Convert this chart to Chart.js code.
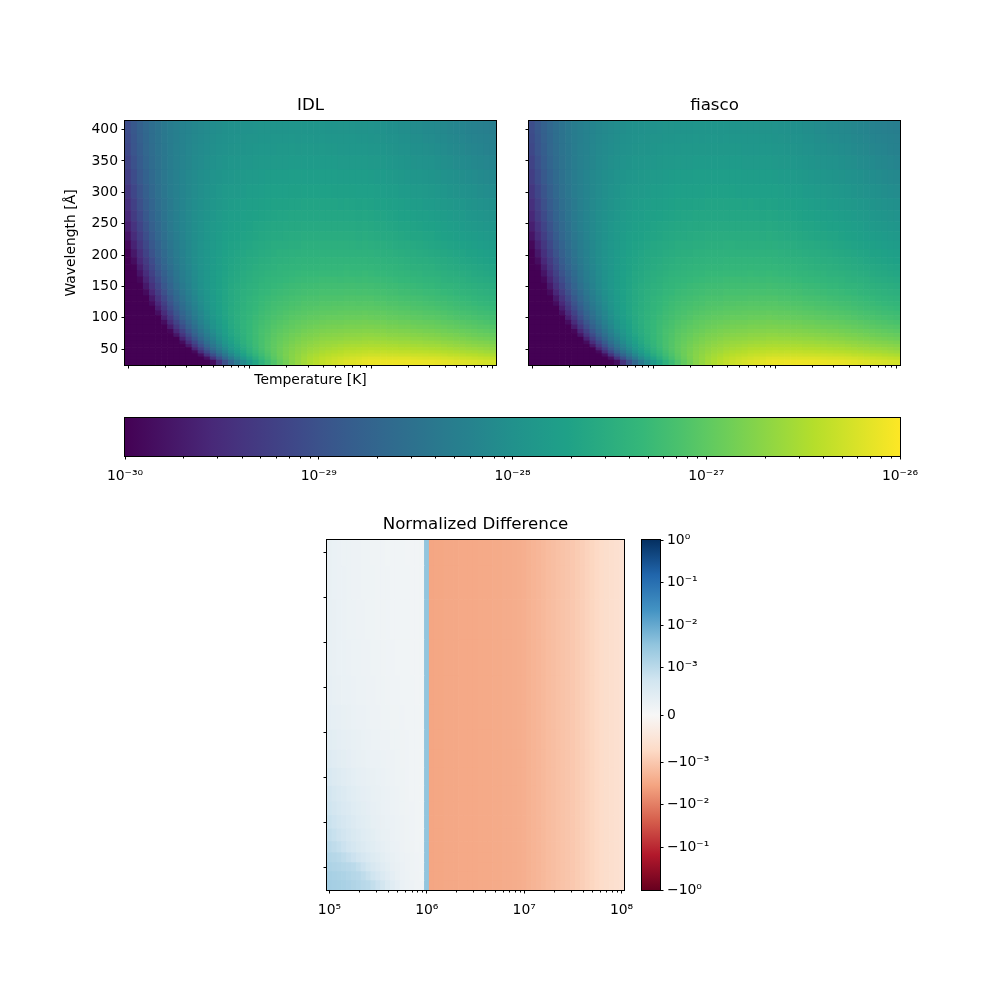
<!DOCTYPE html>
<html>
<head>
<meta charset="utf-8">
<script src="https://cdn.jsdelivr.net/npm/chart.js@4.4.1/dist/chart.umd.min.js"></script>
<style>
html,body{margin:0;padding:0;background:#fff;}
#wrap{position:relative;width:1000px;height:1000px;background:#fff;}
#wrap canvas{position:absolute;left:0;top:0;}
</style>
</head>
<body>
<div id="wrap">
<canvas id="cIdl" width="1000" height="1000"></canvas>
<canvas id="cFiasco" width="1000" height="1000"></canvas>
<canvas id="cBar" width="1000" height="1000"></canvas>
<canvas id="cDiff" width="1000" height="1000"></canvas>
<canvas id="cDiffBar" width="1000" height="1000"></canvas>
</div>
<script>
// ---------------- DATA ----------------
// log10 temperature of each column (K)
const logTemperature = [
  5.00,5.05,5.10,5.15,5.20,5.25,5.30,5.35,5.40,5.45,
  5.50,5.55,5.60,5.65,5.70,5.75,5.80,5.85,5.90,5.95,
  6.00,6.05,6.10,6.15,6.20,6.25,6.30,6.35,6.40,6.45,
  6.50,6.55,6.60,6.65,6.70,6.75,6.80,6.85,6.90,6.95,
  7.00,7.05,7.10,7.15,7.20,7.25,7.30,7.35,7.40,7.45,
  7.50,7.55,7.60,7.65,7.70,7.75,7.80,7.85,7.90,7.95,8.00];
// wavelength of each emissivity row (Angstrom), and the plotted wavelength range
const wavelength = [30,35,40,45,50,55,60,66,72,78,85,92,100,107,115,122,130,140,150,160,
  170,180,190,202,215,230,245,262,280,300,325,347,370,385,400];
const wavelengthRange = [24.6, 413.7];

// IDL emissivity, log10 values, one array per wavelength row (columns = logTemperature)
const idl_30 = [-31,-31,-31,-31,-31,-31,-31,-31,-31,-31,
  -31,-31,-30.92,-30.36,-29.86,-29.42,-29.03,-28.68,-28.38,-28.10,
  -27.86,-27.64,-27.44,-27.27,-27.11,-26.97,-26.86,-26.74,-26.65,-26.56,
  -26.49,-26.43,-26.37,-26.32,-26.28,-26.24,-26.20,-26.18,-26.16,-26.13,
  -26.11,-26.11,-26.10,-26.10,-26.09,-26.10,-26.10,-26.11,-26.11,-26.12,
  -26.12,-26.13,-26.15,-26.16,-26.18,-26.19,-26.21,-26.22,-26.24,-26.26,-26.27];
const idl_35 = [-31,-31,-31,-31,-31,-31,-31,-31,-31,-31,
  -31,-30.82,-30.29,-29.81,-29.39,-29.01,-28.67,-28.38,-28.12,-27.89,
  -27.68,-27.50,-27.32,-27.18,-27.04,-26.93,-26.83,-26.73,-26.66,-26.58,
  -26.52,-26.47,-26.41,-26.37,-26.34,-26.31,-26.28,-26.26,-26.24,-26.21,
  -26.20,-26.20,-26.20,-26.20,-26.20,-26.20,-26.20,-26.21,-26.22,-26.23,
  -26.23,-26.24,-26.26,-26.27,-26.29,-26.31,-26.32,-26.34,-26.36,-26.37,-26.39];
const idl_40 = [-31,-31,-31,-31,-31,-31,-31,-31,-31,-31,
  -30.82,-30.29,-29.83,-29.42,-29.05,-28.72,-28.43,-28.17,-27.95,-27.74,
  -27.56,-27.40,-27.25,-27.13,-27.01,-26.91,-26.82,-26.74,-26.67,-26.61,
  -26.55,-26.51,-26.46,-26.43,-26.40,-26.38,-26.35,-26.33,-26.32,-26.30,
  -26.29,-26.29,-26.28,-26.29,-26.29,-26.30,-26.30,-26.31,-26.31,-26.32,
  -26.33,-26.34,-26.36,-26.38,-26.39,-26.41,-26.43,-26.44,-26.46,-26.48,-26.50];
const idl_45 = [-31,-31,-31,-31,-31,-31,-31,-31,-31,-30.88,
  -30.36,-29.90,-29.49,-29.12,-28.79,-28.50,-28.24,-28.02,-27.82,-27.64,
  -27.48,-27.34,-27.21,-27.10,-26.99,-26.90,-26.83,-26.75,-26.70,-26.64,
  -26.59,-26.56,-26.51,-26.48,-26.46,-26.44,-26.41,-26.40,-26.39,-26.37,
  -26.36,-26.37,-26.36,-26.37,-26.37,-26.38,-26.38,-26.40,-26.40,-26.41,
  -26.42,-26.43,-26.45,-26.46,-26.48,-26.50,-26.52,-26.53,-26.55,-26.57,-26.59];
const idl_50 = [-31,-31,-31,-31,-31,-31,-31,-31,-30.99,-30.47,
  -30.01,-29.59,-29.23,-28.90,-28.60,-28.34,-28.11,-27.90,-27.73,-27.57,
  -27.43,-27.30,-27.18,-27.08,-26.99,-26.91,-26.84,-26.78,-26.72,-26.67,
  -26.63,-26.60,-26.56,-26.54,-26.52,-26.50,-26.47,-26.46,-26.45,-26.44,
  -26.43,-26.44,-26.44,-26.45,-26.45,-26.46,-26.46,-26.47,-26.48,-26.49,
  -26.50,-26.51,-26.53,-26.54,-26.56,-26.58,-26.60,-26.61,-26.63,-26.65,-26.67];
const idl_55 = [-31,-31,-31,-31,-31,-31,-31,-31,-30.62,-30.14,
  -29.73,-29.34,-29.02,-28.72,-28.45,-28.21,-28.00,-27.82,-27.66,-27.52,
  -27.39,-27.27,-27.16,-27.08,-26.99,-26.92,-26.86,-26.80,-26.75,-26.71,
  -26.67,-26.64,-26.61,-26.59,-26.57,-26.55,-26.53,-26.52,-26.52,-26.50,
  -26.50,-26.50,-26.50,-26.51,-26.51,-26.53,-26.53,-26.54,-26.55,-26.56,
  -26.57,-26.58,-26.60,-26.62,-26.64,-26.65,-26.67,-26.69,-26.71,-26.72,-26.74];
const idl_60 = [-31,-31,-31,-31,-31,-31,-31,-30.79,-30.31,-29.88,
  -29.49,-29.15,-28.85,-28.57,-28.33,-28.11,-27.92,-27.75,-27.61,-27.48,
  -27.36,-27.26,-27.16,-27.08,-27.00,-26.94,-26.88,-26.83,-26.79,-26.74,
  -26.71,-26.68,-26.65,-26.63,-26.62,-26.61,-26.59,-26.58,-26.57,-26.56,
  -26.55,-26.56,-26.56,-26.57,-26.58,-26.59,-26.59,-26.61,-26.61,-26.63,
  -26.63,-26.65,-26.67,-26.68,-26.70,-26.72,-26.74,-26.76,-26.77,-26.79,-26.81];
const idl_66 = [-31,-31,-31,-31,-31,-31,-30.94,-30.45,-30.01,-29.62,
  -29.27,-28.95,-28.68,-28.44,-28.22,-28.02,-27.85,-27.69,-27.57,-27.45,
  -27.34,-27.25,-27.16,-27.09,-27.01,-26.96,-26.91,-26.86,-26.82,-26.78,
  -26.76,-26.73,-26.70,-26.69,-26.68,-26.67,-26.65,-26.64,-26.64,-26.62,
  -26.62,-26.63,-26.63,-26.64,-26.65,-26.66,-26.66,-26.68,-26.68,-26.70,
  -26.71,-26.72,-26.74,-26.76,-26.78,-26.79,-26.81,-26.83,-26.85,-26.87,-26.89];
const idl_72 = [-31,-31,-31,-31,-31,-31,-30.61,-30.16,-29.76,-29.40,
  -29.09,-28.80,-28.55,-28.33,-28.13,-27.95,-27.79,-27.65,-27.54,-27.43,
  -27.33,-27.25,-27.16,-27.10,-27.03,-26.98,-26.94,-26.89,-26.86,-26.82,
  -26.80,-26.78,-26.75,-26.74,-26.73,-26.72,-26.70,-26.70,-26.69,-26.68,
  -26.68,-26.69,-26.69,-26.71,-26.71,-26.72,-26.73,-26.74,-26.75,-26.76,
  -26.77,-26.79,-26.81,-26.82,-26.84,-26.86,-26.88,-26.90,-26.92,-26.93,-26.95];
const idl_78 = [-31,-31,-31,-31,-31,-30.81,-30.34,-29.93,-29.56,-29.23,
  -28.94,-28.68,-28.45,-28.24,-28.06,-27.89,-27.75,-27.62,-27.52,-27.42,
  -27.33,-27.25,-27.17,-27.12,-27.05,-27.01,-26.97,-26.93,-26.90,-26.86,
  -26.84,-26.82,-26.80,-26.79,-26.78,-26.77,-26.76,-26.75,-26.75,-26.74,
  -26.74,-26.75,-26.75,-26.77,-26.77,-26.78,-26.79,-26.80,-26.81,-26.83,
  -26.83,-26.85,-26.87,-26.89,-26.90,-26.92,-26.94,-26.96,-26.98,-27.00,-27.02];
const idl_85 = [-31,-31,-31,-31,-30.99,-30.51,-30.08,-29.70,-29.36,-29.06,
  -28.80,-28.56,-28.35,-28.16,-27.99,-27.84,-27.71,-27.60,-27.50,-27.41,
  -27.33,-27.26,-27.19,-27.14,-27.08,-27.04,-27.00,-26.97,-26.94,-26.91,
  -26.89,-26.87,-26.85,-26.84,-26.83,-26.83,-26.81,-26.81,-26.81,-26.80,
  -26.80,-26.81,-26.81,-26.83,-26.83,-26.85,-26.85,-26.87,-26.88,-26.89,
  -26.90,-26.92,-26.93,-26.95,-26.97,-26.99,-27.01,-27.03,-27.05,-27.06,-27.08];
const idl_92 = [-31,-31,-31,-31,-30.70,-30.26,-29.86,-29.51,-29.20,-28.93,
  -28.69,-28.46,-28.27,-28.10,-27.94,-27.81,-27.69,-27.58,-27.49,-27.41,
  -27.34,-27.27,-27.21,-27.16,-27.11,-27.07,-27.04,-27.00,-26.98,-26.95,
  -26.93,-26.92,-26.90,-26.89,-26.88,-26.88,-26.87,-26.86,-26.86,-26.85,
  -26.86,-26.87,-26.87,-26.89,-26.89,-26.91,-26.91,-26.93,-26.94,-26.95,
  -26.96,-26.98,-27.00,-27.01,-27.03,-27.05,-27.07,-27.09,-27.11,-27.13,-27.15];
const idl_100 = [-31,-31,-31,-30.89,-30.43,-30.02,-29.66,-29.34,-29.05,-28.80,
  -28.58,-28.38,-28.20,-28.04,-27.90,-27.78,-27.66,-27.57,-27.49,-27.42,
  -27.35,-27.29,-27.23,-27.19,-27.14,-27.11,-27.08,-27.04,-27.02,-27.00,
  -26.98,-26.97,-26.95,-26.94,-26.94,-26.94,-26.92,-26.92,-26.92,-26.91,
  -26.92,-26.93,-26.93,-26.95,-26.95,-26.97,-26.98,-26.99,-27.00,-27.02,
  -27.02,-27.04,-27.06,-27.08,-27.10,-27.12,-27.13,-27.15,-27.17,-27.19,-27.21];
const idl_107 = [-31,-31,-31,-30.65,-30.22,-29.84,-29.51,-29.21,-28.94,-28.71,
  -28.51,-28.31,-28.16,-28.01,-27.87,-27.76,-27.65,-27.56,-27.49,-27.42,
  -27.36,-27.31,-27.25,-27.21,-27.17,-27.14,-27.11,-27.08,-27.06,-27.04,
  -27.02,-27.01,-27.00,-26.99,-26.99,-26.98,-26.97,-26.97,-26.97,-26.96,
  -26.97,-26.98,-26.98,-27.00,-27.01,-27.02,-27.03,-27.04,-27.05,-27.07,
  -27.08,-27.09,-27.11,-27.13,-27.15,-27.17,-27.19,-27.21,-27.23,-27.24,-27.26];
const idl_115 = [-31,-31,-30.87,-30.42,-30.02,-29.67,-29.36,-29.08,-28.84,-28.62,
  -28.43,-28.26,-28.11,-27.97,-27.85,-27.74,-27.65,-27.56,-27.50,-27.44,
  -27.38,-27.33,-27.28,-27.24,-27.20,-27.17,-27.15,-27.12,-27.10,-27.08,
  -27.07,-27.06,-27.04,-27.04,-27.03,-27.03,-27.02,-27.02,-27.02,-27.02,
  -27.02,-27.03,-27.04,-27.05,-27.06,-27.08,-27.08,-27.10,-27.11,-27.12,
  -27.13,-27.15,-27.17,-27.19,-27.21,-27.23,-27.24,-27.26,-27.28,-27.30,-27.32];
const idl_122 = [-31,-31,-30.67,-30.25,-29.87,-29.54,-29.25,-28.99,-28.76,-28.56,
  -28.38,-28.21,-28.08,-27.95,-27.83,-27.73,-27.64,-27.57,-27.51,-27.45,
  -27.39,-27.35,-27.30,-27.26,-27.22,-27.20,-27.18,-27.15,-27.14,-27.11,
  -27.10,-27.10,-27.08,-27.08,-27.07,-27.07,-27.06,-27.06,-27.07,-27.06,
  -27.06,-27.08,-27.08,-27.10,-27.10,-27.12,-27.13,-27.14,-27.15,-27.17,
  -27.18,-27.20,-27.21,-27.23,-27.25,-27.27,-27.29,-27.31,-27.33,-27.35,-27.37];
const idl_130 = [-31,-30.92,-30.47,-30.08,-29.73,-29.42,-29.14,-28.90,-28.69,-28.50,
  -28.33,-28.18,-28.05,-27.93,-27.82,-27.73,-27.64,-27.57,-27.52,-27.46,
  -27.41,-27.37,-27.32,-27.29,-27.26,-27.23,-27.21,-27.19,-27.17,-27.15,
  -27.14,-27.14,-27.12,-27.12,-27.12,-27.12,-27.11,-27.11,-27.11,-27.11,
  -27.11,-27.13,-27.13,-27.15,-27.15,-27.17,-27.18,-27.19,-27.20,-27.22,
  -27.23,-27.25,-27.26,-27.28,-27.30,-27.32,-27.34,-27.36,-27.38,-27.40,-27.42];
const idl_140 = [-31,-30.67,-30.26,-29.89,-29.57,-29.28,-29.03,-28.80,-28.61,-28.43,
  -28.28,-28.14,-28.02,-27.91,-27.81,-27.72,-27.65,-27.58,-27.53,-27.48,
  -27.44,-27.40,-27.35,-27.33,-27.29,-27.27,-27.25,-27.23,-27.22,-27.20,
  -27.19,-27.19,-27.17,-27.17,-27.17,-27.17,-27.16,-27.16,-27.17,-27.16,
  -27.17,-27.18,-27.19,-27.20,-27.21,-27.23,-27.23,-27.25,-27.26,-27.28,
  -27.28,-27.30,-27.32,-27.34,-27.36,-27.38,-27.40,-27.42,-27.44,-27.46,-27.47];
const idl_150 = [-30.89,-30.46,-30.07,-29.73,-29.43,-29.17,-28.93,-28.73,-28.54,-28.38,
  -28.24,-28.11,-28.00,-27.90,-27.81,-27.73,-27.66,-27.59,-27.55,-27.50,
  -27.46,-27.43,-27.39,-27.36,-27.33,-27.31,-27.29,-27.27,-27.26,-27.24,
  -27.24,-27.23,-27.22,-27.22,-27.22,-27.22,-27.21,-27.21,-27.22,-27.21,
  -27.22,-27.23,-27.24,-27.26,-27.26,-27.28,-27.29,-27.30,-27.31,-27.33,
  -27.34,-27.36,-27.38,-27.39,-27.41,-27.43,-27.45,-27.47,-27.49,-27.51,-27.53];
const idl_160 = [-30.68,-30.28,-29.92,-29.60,-29.32,-29.07,-28.85,-28.66,-28.49,-28.34,
  -28.21,-28.09,-27.99,-27.89,-27.81,-27.73,-27.67,-27.61,-27.57,-27.52,
  -27.49,-27.45,-27.42,-27.39,-27.36,-27.35,-27.33,-27.31,-27.30,-27.29,
  -27.28,-27.28,-27.26,-27.26,-27.26,-27.27,-27.26,-27.26,-27.27,-27.26,
  -27.27,-27.28,-27.29,-27.30,-27.31,-27.33,-27.34,-27.35,-27.36,-27.38,
  -27.39,-27.41,-27.43,-27.45,-27.46,-27.48,-27.50,-27.52,-27.54,-27.56,-27.58];
const idl_170 = [-30.50,-30.12,-29.78,-29.49,-29.22,-28.99,-28.79,-28.61,-28.45,-28.31,
  -28.19,-28.07,-27.98,-27.89,-27.81,-27.74,-27.68,-27.62,-27.59,-27.55,
  -27.51,-27.48,-27.45,-27.42,-27.40,-27.38,-27.37,-27.35,-27.34,-27.32,
  -27.32,-27.32,-27.31,-27.31,-27.31,-27.31,-27.30,-27.31,-27.31,-27.30,
  -27.31,-27.33,-27.33,-27.35,-27.36,-27.37,-27.38,-27.40,-27.41,-27.43,
  -27.44,-27.45,-27.47,-27.49,-27.51,-27.53,-27.55,-27.57,-27.59,-27.61,-27.63];
const idl_180 = [-30.34,-29.98,-29.67,-29.39,-29.14,-28.92,-28.73,-28.56,-28.41,-28.28,
  -28.17,-28.06,-27.97,-27.89,-27.81,-27.75,-27.69,-27.64,-27.61,-27.57,
  -27.54,-27.51,-27.48,-27.46,-27.43,-27.41,-27.40,-27.38,-27.38,-27.36,
  -27.36,-27.36,-27.35,-27.35,-27.35,-27.35,-27.34,-27.35,-27.35,-27.35,
  -27.35,-27.37,-27.38,-27.39,-27.40,-27.42,-27.43,-27.45,-27.45,-27.47,
  -27.48,-27.50,-27.52,-27.54,-27.56,-27.58,-27.60,-27.61,-27.63,-27.65,-27.67];
const idl_190 = [-30.20,-29.86,-29.56,-29.30,-29.07,-28.86,-28.68,-28.52,-28.38,-28.26,
  -28.15,-28.05,-27.97,-27.89,-27.82,-27.76,-27.70,-27.66,-27.63,-27.59,
  -27.56,-27.54,-27.50,-27.49,-27.46,-27.45,-27.44,-27.42,-27.41,-27.40,
  -27.40,-27.40,-27.39,-27.39,-27.39,-27.39,-27.38,-27.39,-27.39,-27.39,
  -27.40,-27.41,-27.42,-27.44,-27.44,-27.46,-27.47,-27.49,-27.50,-27.51,
  -27.52,-27.54,-27.56,-27.58,-27.60,-27.62,-27.64,-27.66,-27.68,-27.70,-27.72];
const idl_202 = [-30.05,-29.74,-29.46,-29.21,-28.99,-28.80,-28.63,-28.48,-28.35,-28.24,
  -28.14,-28.04,-27.97,-27.89,-27.83,-27.77,-27.72,-27.68,-27.65,-27.62,
  -27.59,-27.57,-27.54,-27.52,-27.50,-27.48,-27.48,-27.46,-27.45,-27.44,
  -27.44,-27.44,-27.43,-27.43,-27.43,-27.44,-27.43,-27.43,-27.44,-27.44,
  -27.44,-27.46,-27.47,-27.48,-27.49,-27.51,-27.52,-27.53,-27.54,-27.56,
  -27.57,-27.59,-27.61,-27.63,-27.65,-27.67,-27.69,-27.70,-27.72,-27.74,-27.76];
const idl_215 = [-29.92,-29.62,-29.36,-29.13,-28.92,-28.74,-28.59,-28.45,-28.33,-28.22,
  -28.13,-28.04,-27.97,-27.90,-27.84,-27.79,-27.74,-27.70,-27.68,-27.65,
  -27.62,-27.60,-27.57,-27.56,-27.53,-27.52,-27.52,-27.50,-27.50,-27.48,
  -27.48,-27.48,-27.47,-27.47,-27.48,-27.48,-27.48,-27.48,-27.49,-27.48,
  -27.49,-27.51,-27.51,-27.53,-27.54,-27.56,-27.56,-27.58,-27.59,-27.61,
  -27.62,-27.64,-27.66,-27.68,-27.70,-27.71,-27.73,-27.75,-27.77,-27.79,-27.81];
const idl_230 = [-29.78,-29.51,-29.26,-29.05,-28.86,-28.69,-28.55,-28.42,-28.31,-28.21,
  -28.12,-28.04,-27.98,-27.91,-27.86,-27.81,-27.76,-27.73,-27.71,-27.68,
  -27.66,-27.64,-27.61,-27.60,-27.57,-27.57,-27.56,-27.54,-27.54,-27.53,
  -27.53,-27.53,-27.52,-27.52,-27.53,-27.53,-27.53,-27.53,-27.54,-27.53,
  -27.54,-27.56,-27.57,-27.58,-27.59,-27.61,-27.62,-27.64,-27.64,-27.66,
  -27.67,-27.69,-27.71,-27.73,-27.75,-27.77,-27.79,-27.81,-27.83,-27.85,-27.87];
const idl_245 = [-29.66,-29.41,-29.18,-28.98,-28.80,-28.65,-28.51,-28.39,-28.29,-28.20,
  -28.12,-28.04,-27.98,-27.92,-27.87,-27.83,-27.79,-27.75,-27.73,-27.71,
  -27.69,-27.67,-27.65,-27.63,-27.61,-27.61,-27.60,-27.59,-27.59,-27.57,
  -27.57,-27.58,-27.57,-27.57,-27.57,-27.58,-27.57,-27.58,-27.59,-27.58,
  -27.59,-27.61,-27.61,-27.63,-27.64,-27.66,-27.67,-27.68,-27.69,-27.71,
  -27.72,-27.74,-27.76,-27.78,-27.80,-27.82,-27.84,-27.86,-27.88,-27.90,-27.92];
const idl_262 = [-29.55,-29.31,-29.10,-28.91,-28.75,-28.61,-28.48,-28.37,-28.28,-28.19,
  -28.12,-28.05,-28.00,-27.94,-27.89,-27.85,-27.81,-27.78,-27.77,-27.74,
  -27.73,-27.71,-27.69,-27.68,-27.66,-27.65,-27.65,-27.63,-27.63,-27.62,
  -27.62,-27.62,-27.62,-27.62,-27.62,-27.63,-27.62,-27.63,-27.64,-27.63,
  -27.64,-27.66,-27.67,-27.68,-27.69,-27.71,-27.72,-27.74,-27.75,-27.76,
  -27.77,-27.79,-27.81,-27.83,-27.85,-27.87,-27.89,-27.91,-27.93,-27.95,-27.97];
const idl_280 = [-29.45,-29.23,-29.03,-28.86,-28.71,-28.57,-28.46,-28.36,-28.27,-28.19,
  -28.12,-28.06,-28.01,-27.96,-27.91,-27.88,-27.84,-27.81,-27.80,-27.78,
  -27.76,-27.75,-27.73,-27.72,-27.70,-27.69,-27.69,-27.68,-27.68,-27.67,
  -27.67,-27.67,-27.66,-27.67,-27.67,-27.68,-27.67,-27.68,-27.69,-27.68,
  -27.69,-27.71,-27.72,-27.73,-27.74,-27.76,-27.77,-27.79,-27.80,-27.82,
  -27.83,-27.84,-27.86,-27.88,-27.90,-27.92,-27.94,-27.96,-27.98,-28.00,-28.02];
const idl_300 = [-29.36,-29.15,-28.97,-28.81,-28.67,-28.54,-28.44,-28.34,-28.26,-28.19,
  -28.13,-28.07,-28.03,-27.98,-27.94,-27.90,-27.87,-27.85,-27.84,-27.82,
  -27.80,-27.79,-27.77,-27.76,-27.74,-27.74,-27.74,-27.73,-27.73,-27.72,
  -27.72,-27.72,-27.72,-27.72,-27.73,-27.73,-27.73,-27.73,-27.74,-27.74,
  -27.74,-27.76,-27.77,-27.79,-27.80,-27.82,-27.82,-27.84,-27.85,-27.87,
  -27.88,-27.90,-27.92,-27.94,-27.96,-27.98,-28.00,-28.02,-28.04,-28.06,-28.08];
const idl_325 = [-29.26,-29.07,-28.90,-28.76,-28.63,-28.52,-28.42,-28.34,-28.26,-28.20,
  -28.14,-28.09,-28.05,-28.01,-27.97,-27.94,-27.91,-27.89,-27.88,-27.86,
  -27.85,-27.84,-27.82,-27.81,-27.80,-27.79,-27.79,-27.78,-27.78,-27.77,
  -27.78,-27.78,-27.77,-27.78,-27.78,-27.79,-27.79,-27.79,-27.80,-27.80,
  -27.81,-27.82,-27.83,-27.85,-27.86,-27.88,-27.89,-27.91,-27.91,-27.93,
  -27.94,-27.96,-27.98,-28.00,-28.02,-28.04,-28.06,-28.08,-28.10,-28.12,-28.14];
const idl_347 = [-29.19,-29.01,-28.86,-28.72,-28.60,-28.50,-28.41,-28.33,-28.27,-28.21,
  -28.16,-28.11,-28.07,-28.03,-28.00,-27.97,-27.94,-27.92,-27.92,-27.90,
  -27.89,-27.88,-27.86,-27.86,-27.84,-27.84,-27.84,-27.83,-27.83,-27.82,
  -27.83,-27.83,-27.82,-27.83,-27.83,-27.84,-27.84,-27.84,-27.85,-27.85,
  -27.86,-27.87,-27.88,-27.90,-27.91,-27.93,-27.94,-27.96,-27.97,-27.98,
  -27.99,-28.01,-28.03,-28.05,-28.07,-28.09,-28.11,-28.13,-28.15,-28.17,-28.19];
const idl_370 = [-29.13,-28.96,-28.82,-28.69,-28.58,-28.49,-28.41,-28.33,-28.27,-28.22,
  -28.17,-28.12,-28.09,-28.06,-28.03,-28.00,-27.98,-27.96,-27.95,-27.94,
  -27.93,-27.92,-27.90,-27.90,-27.89,-27.88,-27.88,-27.87,-27.88,-27.87,
  -27.87,-27.88,-27.87,-27.88,-27.88,-27.89,-27.89,-27.89,-27.90,-27.90,
  -27.91,-27.92,-27.93,-27.95,-27.96,-27.98,-27.99,-28.01,-28.02,-28.03,
  -28.04,-28.06,-28.08,-28.10,-28.12,-28.14,-28.16,-28.18,-28.20,-28.22,-28.24];
const idl_385 = [-29.09,-28.94,-28.80,-28.68,-28.57,-28.48,-28.40,-28.34,-28.28,-28.23,
  -28.18,-28.14,-28.11,-28.07,-28.04,-28.02,-28.00,-27.98,-27.97,-27.96,
  -27.95,-27.95,-27.93,-27.93,-27.91,-27.91,-27.91,-27.90,-27.91,-27.90,
  -27.90,-27.91,-27.90,-27.91,-27.91,-27.92,-27.92,-27.92,-27.93,-27.93,
  -27.94,-27.95,-27.96,-27.98,-27.99,-28.01,-28.02,-28.04,-28.05,-28.07,
  -28.08,-28.10,-28.11,-28.13,-28.15,-28.17,-28.19,-28.21,-28.23,-28.25,-28.27];
const idl_400 = [-29.06,-28.91,-28.78,-28.67,-28.57,-28.48,-28.40,-28.34,-28.28,-28.23,
  -28.19,-28.15,-28.12,-28.09,-28.06,-28.04,-28.02,-28.00,-28.00,-27.99,
  -27.98,-27.97,-27.95,-27.95,-27.94,-27.94,-27.94,-27.93,-27.93,-27.93,
  -27.93,-27.93,-27.93,-27.94,-27.94,-27.95,-27.95,-27.95,-27.96,-27.96,
  -27.97,-27.98,-27.99,-28.01,-28.02,-28.04,-28.05,-28.07,-28.08,-28.10,
  -28.11,-28.12,-28.14,-28.16,-28.18,-28.20,-28.22,-28.24,-28.26,-28.28,-28.30];
const idlRows = [idl_30,idl_35,idl_40,idl_45,idl_50,idl_55,idl_60,idl_66,idl_72,idl_78,
  idl_85,idl_92,idl_100,idl_107,idl_115,idl_122,idl_130,idl_140,idl_150,idl_160,
  idl_170,idl_180,idl_190,idl_202,idl_215,idl_230,idl_245,idl_262,idl_280,idl_300,
  idl_325,idl_347,idl_370,idl_385,idl_400];

// Normalized difference: wavelength rows of the difference map
const diffWavelength = [30,40,50,60,72,85,100,115,130,150,170,190,215,245,280,325,370,400];
// columns 10^5.00 .. 10^5.95 (one array per diffWavelength row)
const diffLowT_30  = [2.0e-3,1.9e-3,1.8e-3,1.7e-3,1.55e-3,1.4e-3,1.25e-3,1.1e-3,1.0e-3,9e-4,8e-4,7e-4,5.5e-4,4.5e-4,3.5e-4,2.6e-4,2.2e-4,1.9e-4,1.6e-4,1.5e-4];
const diffLowT_40  = [1.8e-3,1.7e-3,1.6e-3,1.5e-3,1.35e-3,1.2e-3,1.1e-3,9.5e-4,8.5e-4,7.5e-4,6.5e-4,5.5e-4,4.5e-4,3.7e-4,3.0e-4,2.4e-4,2.1e-4,1.8e-4,1.6e-4,1.4e-4];
const diffLowT_50  = [1.5e-3,1.4e-3,1.3e-3,1.2e-3,1.1e-3,1.0e-3,9e-4,8e-4,7e-4,6e-4,5.2e-4,4.5e-4,3.8e-4,3.2e-4,2.7e-4,2.3e-4,2.0e-4,1.7e-4,1.5e-4,1.4e-4];
const diffLowT_60  = [1.25e-3,1.15e-3,1.05e-3,9.5e-4,8.7e-4,8e-4,7.2e-4,6.4e-4,5.7e-4,5e-4,4.4e-4,3.8e-4,3.3e-4,2.9e-4,2.5e-4,2.2e-4,1.9e-4,1.7e-4,1.5e-4,1.3e-4];
const diffLowT_72  = [1.0e-3,9.4e-4,8.8e-4,8.0e-4,7.3e-4,6.6e-4,5.9e-4,5.3e-4,4.7e-4,4.2e-4,3.7e-4,3.3e-4,2.9e-4,2.6e-4,2.3e-4,2.0e-4,1.8e-4,1.6e-4,1.4e-4,1.3e-4];
const diffLowT_85  = [9.0e-4,8.4e-4,7.8e-4,7.2e-4,6.5e-4,5.9e-4,5.3e-4,4.7e-4,4.2e-4,3.8e-4,3.4e-4,3.0e-4,2.7e-4,2.4e-4,2.2e-4,1.9e-4,1.7e-4,1.5e-4,1.4e-4,1.2e-4];
const diffLowT_100 = [8.2e-4,7.6e-4,7.0e-4,6.4e-4,5.8e-4,5.2e-4,4.7e-4,4.2e-4,3.8e-4,3.4e-4,3.1e-4,2.8e-4,2.5e-4,2.3e-4,2.1e-4,1.9e-4,1.7e-4,1.5e-4,1.3e-4,1.2e-4];
const diffLowT_115 = [7.5e-4,6.9e-4,6.3e-4,5.7e-4,5.2e-4,4.7e-4,4.3e-4,3.9e-4,3.5e-4,3.2e-4,2.9e-4,2.6e-4,2.4e-4,2.2e-4,2.0e-4,1.8e-4,1.6e-4,1.5e-4,1.3e-4,1.2e-4];
const diffLowT_130 = [7.0e-4,6.3e-4,5.7e-4,5.2e-4,4.7e-4,4.3e-4,3.9e-4,3.6e-4,3.3e-4,3.0e-4,2.7e-4,2.5e-4,2.3e-4,2.1e-4,1.9e-4,1.7e-4,1.6e-4,1.4e-4,1.3e-4,1.2e-4];
const diffLowT_150 = [5.8e-4,5.3e-4,4.8e-4,4.4e-4,4.0e-4,3.7e-4,3.4e-4,3.1e-4,2.9e-4,2.7e-4,2.5e-4,2.3e-4,2.1e-4,2.0e-4,1.8e-4,1.7e-4,1.5e-4,1.4e-4,1.3e-4,1.2e-4];
const diffLowT_170 = [4.8e-4,4.4e-4,4.1e-4,3.8e-4,3.5e-4,3.2e-4,3.0e-4,2.8e-4,2.6e-4,2.4e-4,2.3e-4,2.1e-4,2.0e-4,1.9e-4,1.7e-4,1.6e-4,1.5e-4,1.4e-4,1.3e-4,1.2e-4];
const diffLowT_190 = [4.1e-4,3.8e-4,3.5e-4,3.3e-4,3.1e-4,2.9e-4,2.7e-4,2.5e-4,2.4e-4,2.2e-4,2.1e-4,2.0e-4,1.9e-4,1.8e-4,1.7e-4,1.6e-4,1.5e-4,1.4e-4,1.3e-4,1.2e-4];
const diffLowT_215 = [3.6e-4,3.4e-4,3.2e-4,3.0e-4,2.8e-4,2.6e-4,2.4e-4,2.3e-4,2.1e-4,2.0e-4,1.9e-4,1.8e-4,1.7e-4,1.6e-4,1.6e-4,1.5e-4,1.4e-4,1.4e-4,1.3e-4,1.2e-4];
const diffLowT_245 = [3.2e-4,3.0e-4,2.8e-4,2.6e-4,2.5e-4,2.3e-4,2.2e-4,2.1e-4,2.0e-4,1.9e-4,1.8e-4,1.7e-4,1.6e-4,1.5e-4,1.5e-4,1.4e-4,1.3e-4,1.3e-4,1.2e-4,1.2e-4];
const diffLowT_280 = [3.0e-4,2.8e-4,2.6e-4,2.5e-4,2.3e-4,2.2e-4,2.1e-4,2.0e-4,1.9e-4,1.8e-4,1.7e-4,1.6e-4,1.5e-4,1.5e-4,1.4e-4,1.4e-4,1.3e-4,1.2e-4,1.2e-4,1.1e-4];
const diffLowT_325 = [2.9e-4,2.7e-4,2.5e-4,2.4e-4,2.2e-4,2.1e-4,2.0e-4,1.9e-4,1.8e-4,1.7e-4,1.6e-4,1.6e-4,1.5e-4,1.4e-4,1.4e-4,1.3e-4,1.3e-4,1.2e-4,1.2e-4,1.1e-4];
const diffLowT_370 = [2.8e-4,2.6e-4,2.4e-4,2.3e-4,2.2e-4,2.0e-4,1.9e-4,1.8e-4,1.7e-4,1.7e-4,1.6e-4,1.5e-4,1.5e-4,1.4e-4,1.4e-4,1.3e-4,1.3e-4,1.2e-4,1.2e-4,1.1e-4];
const diffLowT_400 = [2.7e-4,2.5e-4,2.4e-4,2.2e-4,2.1e-4,2.0e-4,1.9e-4,1.8e-4,1.7e-4,1.6e-4,1.6e-4,1.5e-4,1.4e-4,1.4e-4,1.3e-4,1.3e-4,1.2e-4,1.2e-4,1.2e-4,1.1e-4];
const diffLowTRows = [diffLowT_30,diffLowT_40,diffLowT_50,diffLowT_60,diffLowT_72,diffLowT_85,
  diffLowT_100,diffLowT_115,diffLowT_130,diffLowT_150,diffLowT_170,diffLowT_190,
  diffLowT_215,diffLowT_245,diffLowT_280,diffLowT_325,diffLowT_370,diffLowT_400];
// columns 10^6.00 .. 10^8.00 (same in every wavelength row)
const diffHighT = [3.4e-3,-3.3e-3,-3.2e-3,-3.2e-3,-3.1e-3,-3.1e-3,-3.1e-3,-3.0e-3,-3.0e-3,-3.0e-3,
  -3.0e-3,-2.9e-3,-2.9e-3,-2.9e-3,-2.8e-3,-2.8e-3,-2.7e-3,-2.7e-3,-2.6e-3,-2.5e-3,
  -2.4e-3,-2.2e-3,-2.0e-3,-1.85e-3,-1.7e-3,-1.55e-3,-1.4e-3,-1.3e-3,-1.2e-3,-1.1e-3,
  -1.0e-3,-9.5e-4,-9.0e-4,-8.5e-4,-8.0e-4,-7.5e-4,-7.0e-4,-6.7e-4,-6.3e-4,-6.0e-4,-5.7e-4];

// ticks
const temperatureTicks = [1e5, 1e6, 1e7, 1e8];
const temperatureTickLabels = ['10⁵', '10⁶', '10⁷', '10⁸'];
const wavelengthTicks = [50, 100, 150, 200, 250, 300, 350, 400];
const colorbarTicks = [1e-30, 1e-29, 1e-28, 1e-27, 1e-26];
const colorbarTickLabels = ['10⁻³⁰', '10⁻²⁹', '10⁻²⁸', '10⁻²⁷', '10⁻²⁶'];
const diffTicks = [1, 0.1, 0.01, 0.001, 0, -0.001, -0.01, -0.1, -1];
const diffTickLabels = ['10⁰', '10⁻¹', '10⁻²', '10⁻³', '0', '−10⁻³', '−10⁻²', '−10⁻¹', '−10⁰'];

// ---------------- COLOUR MAPS ----------------
const VIRIDIS = [[0,'#440154'],[0.111,'#482878'],[0.143,'#46327e'],[0.222,'#3e4989'],[0.25,'#3b528b'],
  [0.286,'#365c8d'],[0.333,'#31688e'],[0.429,'#277f8e'],[0.444,'#26828e'],[0.5,'#21918c'],
  [0.556,'#1f9e89'],[0.571,'#1fa187'],[0.667,'#35b779'],[0.714,'#4ac16d'],[0.75,'#5ec962'],
  [0.778,'#6ece58'],[0.857,'#a0da39'],[0.889,'#b5de2b'],[1,'#fde725']];
const RDBU = [[0,'#67001f'],[0.1,'#b2182b'],[0.2,'#d6604d'],[0.3,'#f4a582'],[0.4,'#fddbc7'],
  [0.5,'#f7f7f7'],[0.6,'#d1e5f0'],[0.7,'#92c5de'],[0.8,'#4393c3'],[0.9,'#2166ac'],[1,'#053061']];
const hexRgb = c => [1,3,5].map(i => parseInt(c.slice(i, i + 2), 16));
function cmap(stops, f) {
  f = Math.min(1, Math.max(0, f));
  for (let i = 1; i < stops.length; i++) {
    if (f <= stops[i][0]) {
      const t = (f - stops[i-1][0]) / (stops[i][0] - stops[i-1][0]);
      const a = hexRgb(stops[i-1][1]), b = hexRgb(stops[i][1]);
      return 'rgb(' + a.map((v, k) => Math.round(v + (b[k] - v) * t)).join(',') + ')';
    }
  }
  return stops[stops.length - 1][1];
}
const LOG_MIN = -30, LOG_MAX = -26;
const viridisOf = v => cmap(VIRIDIS, (v - LOG_MIN) / (LOG_MAX - LOG_MIN));
const LINTHRESH = 1e-3, LINSCALE = 1 / (1 - 1 / 10);
function symlog(d) {
  const a = Math.abs(d), s = Math.sign(d);
  return a <= LINTHRESH ? s * a / LINTHRESH * LINSCALE : s * (LINSCALE + Math.log10(a / LINTHRESH));
}
const SYM_MAX = symlog(1);
const rdbuOf = d => cmap(RDBU, 0.5 + symlog(d) / (2 * SYM_MAX));

// ---------------- GRIDS ----------------
const diffRows = diffLowTRows.map(r => r.concat(diffHighT));
// fiasco = IDL * (1 + normalized difference), difference taken from the nearest difference row
const nearestDiffRow = lam => diffWavelength.reduce((b, w, i) =>
  Math.abs(w - lam) < Math.abs(diffWavelength[b] - lam) ? i : b, 0);
const fiascoRows = idlRows.map((r, i) => {
  const d = diffRows[nearestDiffRow(wavelength[i])];
  return r.map((v, j) => v + Math.log10(1 + d[j]));
});

// ---------------- CHART HELPERS ----------------
Chart.defaults.font.family = 'DejaVu Sans';
Chart.defaults.font.size = 13.9;
Chart.defaults.color = '#000';

const HALF = (logTemperature[1] - logTemperature[0]) / 2;
function rowEdges(rowsWl) {
  const e = [wavelengthRange[0]];
  for (let i = 1; i < rowsWl.length; i++) e.push((rowsWl[i-1] + rowsWl[i]) / 2);
  e.push(wavelengthRange[1]);
  return e;
}
function cellDatasets(grid, rowsWl, colorOf) {
  const edges = rowEdges(rowsWl);
  return grid.map((row, r) => ({
    label: rowsWl[r] + ' Å',
    data: logTemperature.map(lt => ({ x: Math.pow(10, lt), y: [edges[r], edges[r+1]] })),
    backgroundColor: row.map(colorOf),
    borderWidth: 0, barPercentage: 1, categoryPercentage: 1, grouped: false
  }));
}
const TICKGRID = { display: true, drawOnChartArea: false, drawTicks: true, offset: false,
  tickLength: 3.5, tickColor: '#000', tickWidth: 1 };

function tempAxis(showLabels, title, height) {
  return {
    type: 'logarithmic', position: 'bottom', offset: false,
    min: Math.pow(10, logTemperature[0] - HALF),
    max: Math.pow(10, logTemperature[logTemperature.length - 1] + HALF),
    afterBuildTicks: s => { s.ticks = temperatureTicks.map(v => ({ value: v, major: true })); },
    afterFit: s => { s.height = height; },
    grid: TICKGRID, border: { display: false },
    ticks: { display: showLabels, autoSkip: false, maxRotation: 0, padding: 8.4,
      callback: (v, i) => temperatureTickLabels[i] },
    title: title ? { display: true, text: title, padding: 0 } : { display: false }
  };
}
function waveAxis(showLabels, title, width) {
  return {
    type: 'linear', position: 'left', beginAtZero: false,
    min: wavelengthRange[0], max: wavelengthRange[1],
    afterBuildTicks: s => { s.ticks = wavelengthTicks.map(v => ({ value: v })); },
    afterFit: s => { s.width = width; },
    grid: TICKGRID, border: { display: false },
    ticks: { display: showLabels, autoSkip: false, padding: 3.5, callback: v => String(v) },
    title: title ? { display: true, text: title, padding: 0 } : { display: false }
  };
}

const framePlugin = {
  id: 'frame',
  beforeDatasetsDraw(chart, args, o) {
    if (!o.stops) return;
    const a = chart.chartArea, ctx = chart.ctx;
    const g = o.vertical ? ctx.createLinearGradient(0, a.bottom, 0, a.top)
                         : ctx.createLinearGradient(a.left, 0, a.right, 0);
    o.stops.forEach(([f, c]) => g.addColorStop(f, c));
    ctx.save(); ctx.fillStyle = g;
    ctx.fillRect(a.left, a.top, a.right - a.left, a.bottom - a.top);
    ctx.restore();
  },
  afterDraw(chart, args, o) {
    const { ctx, chartArea: a } = chart;
    ctx.save();
    ctx.strokeStyle = '#000';
    ctx.lineWidth = 1;
    (o.minorAxes || []).forEach(id => {
      const s = chart.scales[id];
      const lo = Math.floor(Math.log10(s.min)), hi = Math.ceil(Math.log10(s.max));
      for (let e = lo; e < hi; e++) {
        for (let k = 2; k <= 9; k++) {
          const v = k * Math.pow(10, e);
          if (v <= s.min || v >= s.max) continue;
          const px = Math.round(s.getPixelForValue(v)) + 0.5;
          ctx.beginPath(); ctx.moveTo(px, a.bottom); ctx.lineTo(px, a.bottom + 2.5); ctx.stroke();
        }
      }
    });
    const L = Math.round(a.left) - 0.5, T = Math.round(a.top) - 0.5;
    const R = Math.round(a.right) + 0.5, B = Math.round(a.bottom) + 0.5;
    ctx.strokeRect(L, T, R - L, B - T);
    ctx.restore();
  }
};

const BASE = { responsive: false, maintainAspectRatio: false, devicePixelRatio: 1, animation: false, events: [] };
function titleOpt(text) {
  return { display: true, text, fullSize: false, color: '#000',
    font: { size: 16.67, weight: 'normal' }, padding: { top: 0, bottom: 5.1 } };
}

function heatmap(id, grid, rowsWl, colorOf, o) {
  return new Chart(document.getElementById(id), {
    type: 'bar',
    data: { datasets: cellDatasets(grid, rowsWl, colorOf) },
    options: Object.assign({}, BASE, {
      layout: { padding: o.padding },
      plugins: { legend: { display: false }, tooltip: { enabled: false },
        title: titleOpt(o.title), frame: { minorAxes: ['x'] } },
      scales: { x: tempAxis(o.xLabels, o.xTitle, o.xHeight), y: waveAxis(o.yLabels, o.yTitle, o.yWidth) }
    }),
    plugins: [framePlugin]
  });
}

// ---------------- CHARTS ----------------
heatmap('cIdl', idlRows, wavelength, viridisOf, {
  title: 'IDL', padding: { left: 63.4, top: 95.9, right: 504, bottom: 610.8 },
  xLabels: false, xTitle: 'Temperature [K]', xHeight: 24.2,
  yLabels: true, yTitle: 'Wavelength [Å]', yWidth: 61.6
});
heatmap('cFiasco', fiascoRows, wavelength, viridisOf, {
  title: 'fiasco', padding: { left: 519, top: 95.9, right: 100, bottom: 625 },
  xLabels: false, xTitle: null, xHeight: 10,
  yLabels: false, yTitle: null, yWidth: 10
});
heatmap('cDiff', diffRows, diffWavelength, rdbuOf, {
  title: 'Normalized Difference', padding: { left: 317, top: 514.9, right: 376, bottom: 80 },
  xLabels: true, xTitle: null, xHeight: 30,
  yLabels: false, yTitle: null, yWidth: 10
});

// horizontal colour bar for the emissivity
new Chart(document.getElementById('cBar'), {
  type: 'scatter',
  data: { datasets: [] },
  options: Object.assign({}, BASE, {
    layout: { padding: { left: 125, top: 418, right: 100, bottom: 514 } },
    plugins: { legend: { display: false }, tooltip: { enabled: false },
      frame: { minorAxes: ['x'], stops: VIRIDIS } },
    scales: {
      x: { type: 'logarithmic', position: 'bottom', min: colorbarTicks[0], max: colorbarTicks[colorbarTicks.length - 1],
        afterBuildTicks: s => { s.ticks = colorbarTicks.map(v => ({ value: v, major: true })); },
        afterFit: s => { s.height = 30; },
        grid: TICKGRID, border: { display: false },
        ticks: { autoSkip: false, maxRotation: 0, padding: 8.4, callback: (v, i) => colorbarTickLabels[i] } },
      y: { display: false, min: 0, max: 1 }
    }
  }),
  plugins: [framePlugin]
});

// vertical symlog colour bar for the normalized difference
new Chart(document.getElementById('cDiffBar'), {
  type: 'scatter',
  data: { datasets: [] },
  options: Object.assign({}, BASE, {
    layout: { padding: { left: 642, top: 540, right: 270, bottom: 110 } },
    plugins: { legend: { display: false }, tooltip: { enabled: false },
      frame: { stops: RDBU, vertical: true } },
    scales: {
      x: { display: false, min: 0, max: 1 },
      y: { type: 'linear', position: 'right', min: -SYM_MAX, max: SYM_MAX, beginAtZero: false,
        afterBuildTicks: s => { s.ticks = diffTicks.map(v => ({ value: symlog(v) })); },
        afterFit: s => { s.width = 70; },
        grid: TICKGRID, border: { display: false },
        ticks: { autoSkip: false, padding: 3.5, callback: (v, i) => diffTickLabels[i] } }
    }
  }),
  plugins: [framePlugin]
});
</script>
</body>
</html>
